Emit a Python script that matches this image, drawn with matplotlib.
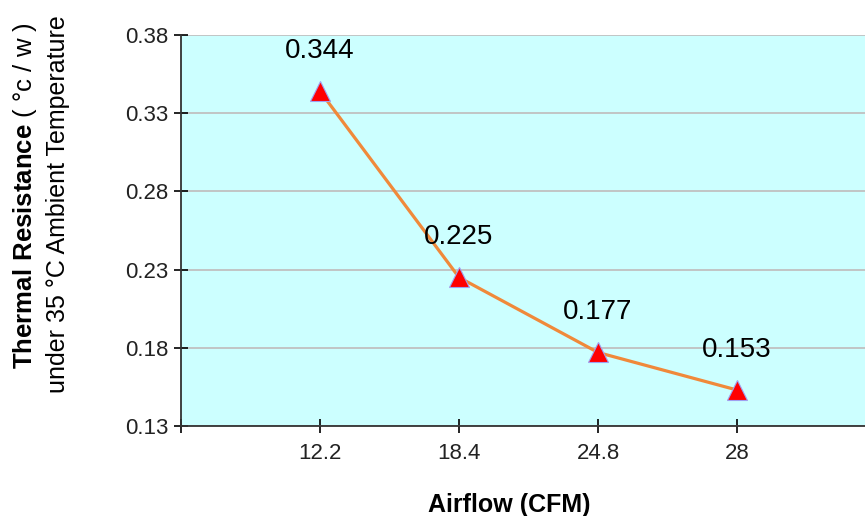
import matplotlib
matplotlib.use("Agg")
import matplotlib.pyplot as plt

plt.rcParams['font.family'] = ['Liberation Sans', 'DejaVu Sans']
plt.rcParams['mathtext.fontset'] = 'custom'
plt.rcParams['mathtext.bf'] = 'Liberation Sans:bold'
plt.rcParams['mathtext.rm'] = 'Liberation Sans'

airflow = ['12.2', '18.4', '24.8', '28']
resistance = [0.344, 0.225, 0.177, 0.153]
yticks = [0.13, 0.18, 0.23, 0.28, 0.33, 0.38]

fig = plt.figure(figsize=(8.65, 5.16), dpi=100)
ax = fig.add_axes([0.2093, 0.1744, 0.8035, 0.7578])
ax.set_facecolor('#CCFFFF')

xpos = list(range(1, len(airflow) + 1))
ax.plot(xpos, resistance, color='#F0893A', lw=2.3, zorder=3)
ax.plot(xpos, resistance, ls='none', marker='^', ms=15, mfc='#FF0000',
        mec='#A0A0F0', mew=0.8, zorder=4)

for x, v in zip(xpos, resistance):
    ax.annotate(f'{v:.3f}', (x, v), xytext=(0, 29), textcoords='offset points',
                ha='center', va='center', fontsize=20, color='black')

ax.set_xlim(0, 5)
ax.set_ylim(0.13, 0.38)
ax.set_yticks(yticks)
ax.set_yticklabels([f'{t:.2f}' for t in yticks], fontsize=16, color='#222222')
ax.set_xticks([0] + xpos + [5])
ax.set_xticklabels([''] + airflow + [''], fontsize=16, color='#222222')
ax.tick_params(axis='x', direction='inout', length=10, width=1.2, pad=7)
ax.tick_params(axis='y', direction='inout', length=10, width=1.2, pad=4)

ax.grid(axis='y', color='#C0C0C0', lw=1.3)
ax.set_axisbelow(True)
ax.spines['right'].set_visible(False)
ax.spines['top'].set_visible(False)
ax.spines['left'].set_color('#333333')
ax.spines['bottom'].set_color('#333333')
ax.spines['left'].set_linewidth(1.3)
ax.spines['bottom'].set_linewidth(1.3)

fig.text(509 / 865, 1 - 505 / 516, 'Airflow (CFM)', ha='center', va='center',
         fontsize=18, fontweight='bold')
fig.text(25 / 865, 1 - 196 / 516, r'$\mathbf{Thermal\ Resistance}$ ( °c / w )',
         rotation=90, ha='center', va='center', fontsize=18.5)
fig.text(58 / 865, 1 - 204 / 516, 'under 35 °C Ambient Temperature',
         rotation=90, ha='center', va='center', fontsize=18)

fig.savefig('out.png', dpi=100)
